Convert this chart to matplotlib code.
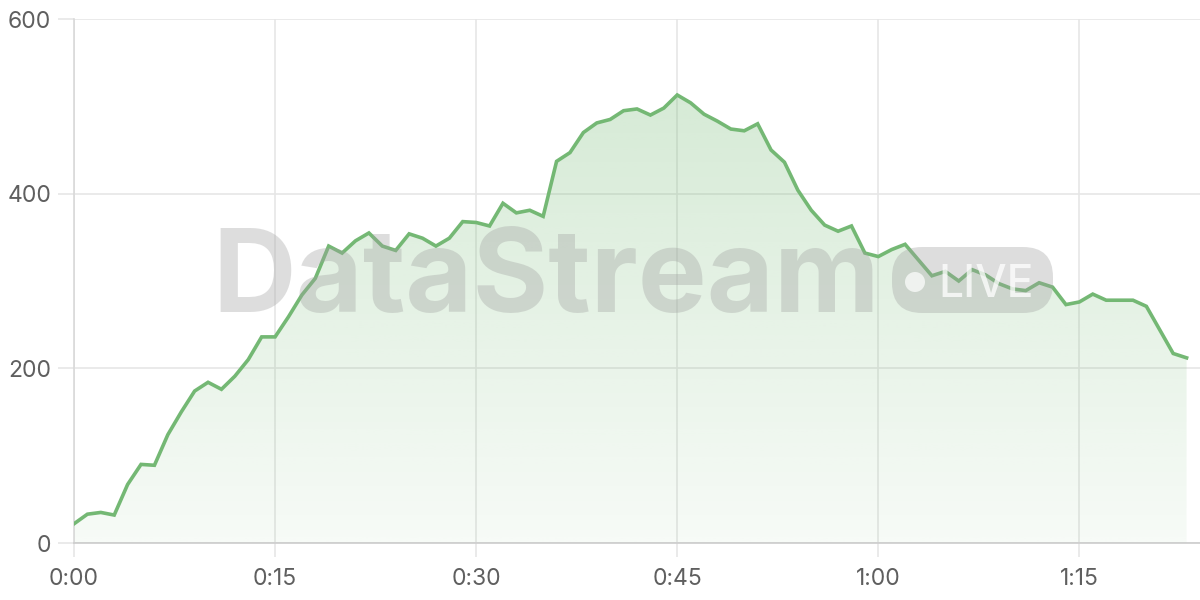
import numpy as np
import matplotlib.pyplot as plt
from matplotlib.patches import FancyBboxPatch, Circle

# viewers per minute
viewers = [22, 33, 35, 32, 67, 90, 89, 124, 150, 174,
           184, 176, 191, 210, 236, 236, 259, 284, 303, 340,
           332, 346, 355, 340, 335, 354, 349, 340, 349, 368,
           367, 363, 389, 378, 381, 374, 437, 447, 470, 481,
           485, 495, 497, 490, 498, 513, 504, 491, 483, 474,
           472, 480, 450, 436, 404, 381, 364, 357, 363, 332,
           328, 336, 342, 324, 306, 311, 300, 313, 307, 297,
           291, 289, 298, 293, 273, 276, 285, 278, 278, 278,
           271, 244, 217, 212]
x_ticks = [0, 15, 30, 45, 60, 75]
x_labels = ['0:00', '0:15', '0:30', '0:45', '1:00', '1:15']
y_ticks = [0, 200, 400, 600]

plt.rcParams['font.family'] = ['Inter', 'DejaVu Sans']

line_color = '#74b874'
grid_color = '#e6e6e6'

fig = plt.figure(figsize=(12, 6), dpi=100)
ax = fig.add_axes([74 / 1200, 57 / 600, 1 - 74 / 1200, 524 / 600])

minutes = np.arange(len(viewers))
ax.set_xlim(0, 84)
ax.set_ylim(0, 600)

# gradient fill under the line
fill = ax.fill_between(minutes, viewers, 0, color='none', lw=0)
grad = np.zeros((256, 2, 4))
grad[..., :3] = np.array([119, 187, 119]) / 255
grad[..., 3] = np.linspace(0.344, 0.06, 256)[:, None] * np.ones((1, 2))
img = ax.imshow(grad, extent=[0, 84, 0, 600], aspect='auto', origin='upper', zorder=1)
img.set_clip_path(fill.get_paths()[0], transform=ax.transData)

ax.plot(minutes, viewers, color=line_color, lw=2.6, zorder=4, solid_joinstyle='miter')

ax.set_xticks(x_ticks)
ax.set_xticklabels(x_labels)
ax.set_yticks(y_ticks)
ax.grid(True, color=grid_color, lw=1.2, zorder=0)
ax.set_axisbelow(True)
ax.tick_params(axis='both', colors=grid_color, labelcolor='#5f5f5f', labelsize=16.5, width=1.2)
ax.tick_params(axis='y', length=11.5, pad=5)
ax.tick_params(axis='x', length=10, pad=8)
for s in ['top', 'right']:
    ax.spines[s].set_visible(False)
ax.spines['left'].set_color('#d9d9d9')
ax.spines['bottom'].set_color('#cccccc')
ax.spines['left'].set_linewidth(1.2)
ax.spines['bottom'].set_linewidth(1.2)

# watermark
wm = fig.text(212 / 1200, 1 - 312 / 600, 'DataStream', fontsize=83, fontweight='bold',
              color='#a0a0a0', alpha=0.35, ha='left', va='baseline', zorder=3)
renderer = fig.canvas.get_renderer()
w = wm.get_window_extent(renderer).width
wm.set_fontsize(83 * 668 / w)

pill = FancyBboxPatch((892 / 1200, 1 - 313 / 600), 161 / 1200, 66 / 600,
                      boxstyle='round,pad=0,rounding_size=0.025', transform=fig.transFigure,
                      facecolor='#a0a0a0', alpha=0.35, edgecolor='none', zorder=3, mutation_aspect=2)
fig.add_artist(pill)
dot = Circle((915 / 100, (600 - 282) / 100), 0.1, transform=fig.dpi_scale_trans,
             facecolor='white', alpha=0.7, edgecolor='none', zorder=3)
fig.add_artist(dot)
live = fig.text(938 / 1200, 1 - 297 / 600, 'LIVE', fontsize=34, fontweight='medium',
                color='white', alpha=0.75, ha='left', va='baseline', zorder=3)
w = live.get_window_extent(renderer).width
live.set_fontsize(34 * 95 / w)

fig.savefig('out.png', dpi=100)
